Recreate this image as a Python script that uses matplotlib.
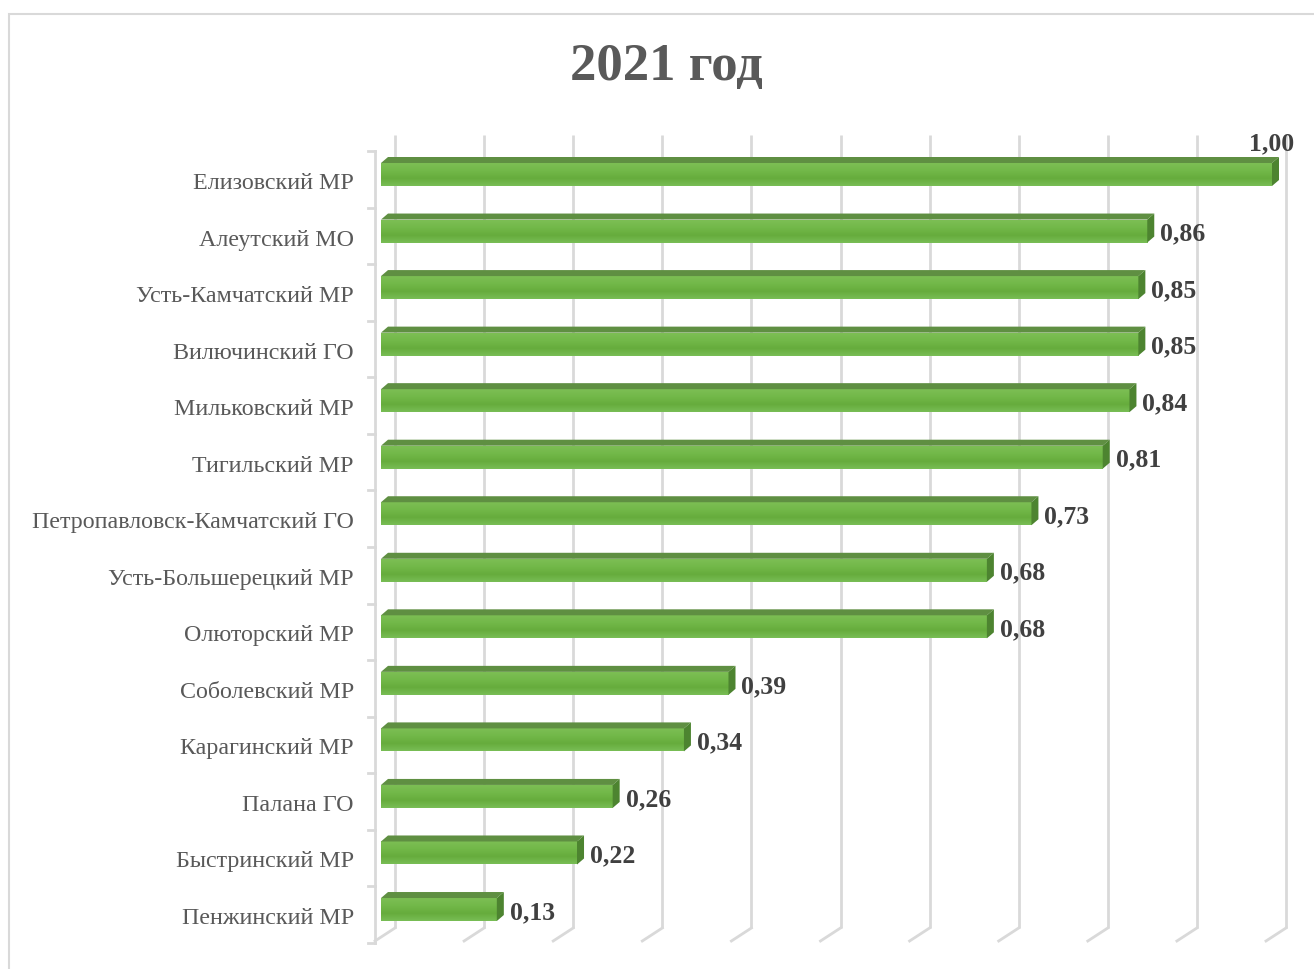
import numpy as np
import matplotlib.pyplot as plt
from matplotlib.patches import Polygon, Rectangle
from matplotlib.colors import LinearSegmentedColormap

# data
regions = ['Елизовский МР', 'Алеутский МО', 'Усть-Камчатский МР', 'Вилючинский ГО',
           'Мильковский МР', 'Тигильский МР', 'Петропавловск-Камчатский ГО',
           'Усть-Большерецкий МР', 'Олюторский МР', 'Соболевский МР',
           'Карагинский МР', 'Палана ГО', 'Быстринский МР', 'Пенжинский МР']
values = [1.00, 0.86, 0.85, 0.85, 0.84, 0.81, 0.73, 0.68, 0.68, 0.39, 0.34, 0.26, 0.22, 0.13]
value_labels = ['1,00', '0,86', '0,85', '0,85', '0,84', '0,81', '0,73',
                '0,68', '0,68', '0,39', '0,34', '0,26', '0,22', '0,13']
title = '2021 год'
grid_ticks = np.arange(0, 1.01, 0.1)

plt.rcParams['font.family'] = ['Liberation Serif', 'DejaVu Serif']

W, H = 1314, 969
fig = plt.figure(figsize=(W / 100, H / 100), dpi=100)
ax = fig.add_axes([0, 0, 1, 1])

# pixel geometry of the 3D look (x: 0 -> 381px, 1 -> 1272px; rows 56.54px apart)
x0, sx = 381, 891
y0, sy = 174.5, 56.54
ax.set_xlim(-x0 / sx, (W - x0) / sx)
ax.set_ylim((H - y0) / sy, -y0 / sy)
ax.axis('off')

px = lambda p: p / sx   # pixel -> data (x)
py = lambda p: p / sy   # pixel -> data (y)

grid_c = '#d9d9d9'
bar_h = py(23)
dx, dy = px(7), py(6)          # bar depth offset
wall_dx = px(14)
floor_back = py(928 - y0)
floor_dx, floor_dy = px(-20), py(13)
grid_top = py(135 - y0)

# back wall gridlines + floor
for t in grid_ticks:
    xb = t + wall_dx
    ax.plot([xb, xb], [grid_top, floor_back], color=grid_c, lw=2, zorder=1,
            solid_capstyle='butt')
    ax.plot([xb, xb + floor_dx], [floor_back, floor_back + floor_dy],
            color=grid_c, lw=2, zorder=1)

# category axis with tick marks at boundaries
xl = px(375 - x0)
bounds = np.arange(len(regions) + 1) - 0.5 + py(5)
ax.plot([xl, xl], [bounds[0], bounds[-1]], color=grid_c, lw=2, zorder=1)
for b in bounds:
    ax.plot([xl - px(7), xl], [b, b], color=grid_c, lw=2, zorder=1)

ypos = np.arange(len(regions))
bars = ax.barh(ypos, values, height=bar_h, color='#6db545', lw=0, zorder=3)

grad = np.linspace(0, 1, 50).reshape(-1, 1)
cmap = LinearSegmentedColormap.from_list('g', ['#7cbe54', '#72b849', '#66ac3c', '#78bd55'])

for i, (bar, v) in enumerate(zip(bars, values)):
    yt = i - bar_h / 2
    yb = i + bar_h / 2
    im = ax.imshow(grad, cmap=cmap, aspect='auto', extent=[0, v, yb, yt], zorder=4)
    im.set_clip_path(bar)
    top = Polygon([[0, yt], [v, yt], [v + dx, yt - dy], [dx, yt - dy]],
                  closed=True, fc='#5f8f42', ec='none', zorder=4)
    side = Polygon([[v, yt], [v + dx, yt - dy], [v + dx, yb - dy], [v, yb]],
                   closed=True, fc='#4d8430', ec='none', zorder=4)
    ax.add_patch(top)
    ax.add_patch(side)

    if v >= max(values):
        ax.text(v, yt - py(19), value_labels[i], ha='center', va='center',
                fontsize=18.5, fontweight='bold', color='#404040', zorder=5)
    else:
        ax.text(v + px(13), i + py(3), value_labels[i], ha='left', va='center',
                fontsize=18.5, fontweight='bold', color='#404040', zorder=5)

    ax.text(px(354 - x0), i + py(9), regions[i], ha='right', va='center',
            fontsize=17.3, color='#595959')

# title
ax.text(px(666 - x0), py(67 - y0), title, ha='center', va='center',
        fontsize=38, fontweight='bold', color='#595959')

# chart area border
fig.patches.append(Rectangle((9 / W, -0.1), 1.2, 1 - 14 / H + 0.1, transform=fig.transFigure,
                             fill=False, ec='#d9d9d9', lw=1.5))

fig.savefig('out.png', dpi=100)
